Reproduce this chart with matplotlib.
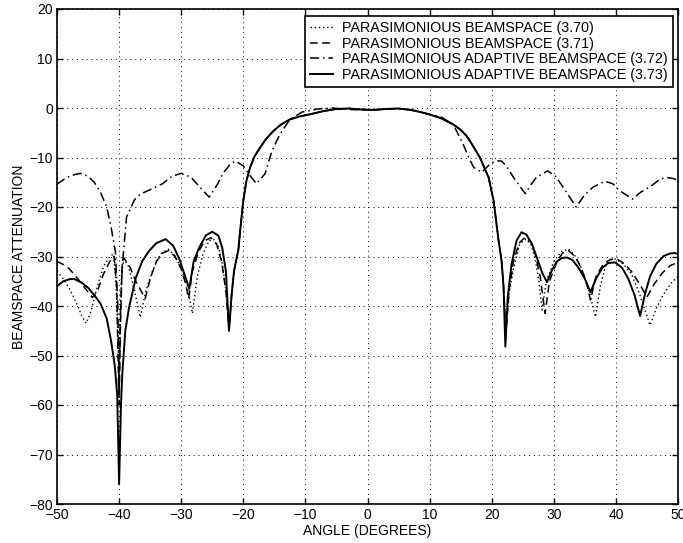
import numpy as np
import matplotlib
matplotlib.use("Agg")
import matplotlib.pyplot as plt

plt.rcParams['font.family'] = ['Liberation Sans', 'DejaVu Sans']
plt.rcParams['font.size'] = 10

# main lobe shared by (3.70), (3.71), (3.73)
main_ang = [-21.9, -21.5, -21.1, -20.8, -20.5, -20, -19.5, -18.9, -18.2, -17.3, -16.3, -15.2, -14, -12.5, -10.9, -9, -7,
            -5, -3, -1, 1, 3, 5, 7, 8.5, 10, 11.7, 13.8, 15, 16, 17, 18.1, 19, 19.5, 20.3, 21.1, 21.6, 21.9]
main_db = [-38, -33, -30.5, -28.7, -24.7, -18.7, -14.7, -12, -9.8, -8, -6.2, -4.7, -3.4, -2.3, -1.7, -1.2, -0.6,
           -0.2, -0.1, -0.3, -0.4, -0.2, -0.1, -0.4, -0.8, -1.3, -2.0, -3.3, -4.4, -5.7, -7.7, -10, -12.6, -14, -18.7,
           -26.7, -31, -36]

# (3.73) solid
sol_l_ang = [-50, -49, -48, -47.3, -46, -45, -44, -43, -42, -41.3, -40.7, -40.3, -40, -39.7, -39.5, -39, -38.4, -37.3,
             -36.3, -35.2, -34, -32.5, -31.3, -30.3, -29.5, -28.7, -28, -27.1, -26, -25, -24, -23.4, -22.8, -22.3]
sol_l_db = [-36.0, -35.0, -34.6, -34.5, -35.3, -36.3, -37.8, -39.5, -42.5, -47, -52, -58, -76, -60, -54, -45, -40.3, -34.3,
            -31, -28.9, -27.3, -26.5, -27.8, -30.5, -33.5, -36.5, -31, -28.2, -25.7, -25.0, -25.8, -28.2, -33, -45]
sol_r_ang = [22.2, 22.6, 23.2, 24, 24.8, 25.6, 26.5, 27.3, 28.2, 28.9, 29.6, 30.5, 31.3, 32.1, 33, 34, 35, 35.9, 36.8,
             37.8, 38.8, 39.9, 41, 42, 43, 43.9, 44.7, 45.5, 46.5, 47.7, 48.7, 49.5, 50]
sol_r_db = [-48.2, -38, -31.5, -26.8, -25.1, -25.6, -27.5, -30.3, -33.5, -35.2, -33, -31, -30.3, -30.2, -30.7, -32.3, -34.5,
            -37.2, -34.5, -32.3, -31.3, -31.2, -32.3, -34.5, -37.8, -42, -37.5, -34, -31.5, -29.9, -29.4, -29.3, -29.5]

# (3.71) dashed
dsh_l_ang = [-50, -49, -48, -47, -46, -45, -44.3, -43.5, -42.5, -41.5, -40.8, -40.4, -40.1, -40, -39.8, -39.5, -39.2,
             -38.3, -37.3, -35.8, -35, -34, -33, -32, -31, -30, -29.3, -28.8, -28.2, -27.2, -26.2, -25.2, -24.3, -23.5,
             -22.8, -22.3]
dsh_l_db = [-31, -31.6, -32.5, -34, -35.5, -37.2, -38.3, -37, -33.5, -31, -30, -36, -55, -60, -45, -31, -30.3, -32, -35,
            -38.5, -34.5, -31, -29.3, -28.8, -30, -32.5, -35.5, -38.5, -33, -29, -26.8, -26.2, -27.5, -31, -37, -45]
dsh_r_ang = [22.3, 22.8, 23.5, 24.4, 25.4, 26.3, 27, 27.8, 28.6, 29.3, 30.5, 31.4, 32.4, 33.4, 34.3, 35.2, 35.9, 36.8, 38,
             39.1, 40.2, 41.4, 42.5, 43.8, 45, 46.2, 47.5, 48.8, 50]
dsh_r_db = [-45, -37, -31, -27.3, -26.1, -27, -29.5, -34, -41.5, -35, -31, -29.3, -28.8, -30, -32, -35, -38.8, -34, -31.5,
            -30.6, -30.5, -31.5, -33, -35.5, -38.2, -35.5, -33.3, -31.8, -31.2]

# (3.70) dotted
dot_l_ang = [-50, -49, -48, -47, -46, -45.3, -44.5, -43.5, -42.5, -41.5, -40.9, -40.5, -40.1, -40, -39.9, -39.6, -39.2,
             -38.5, -37.5, -36.6, -35.7, -34.5, -33.3, -32.1, -31, -30, -29, -28.2, -27.4, -26.5, -25.5, -24.8, -24,
             -23.3, -22.7, -22.3]
dot_l_db = [-33, -34.5, -36.5, -39, -42, -43.5, -41, -36, -32, -30, -29.5, -35, -50, -58, -48, -33, -30.5, -32, -37, -42.3,
            -37, -32.5, -29.5, -28.5, -29.8, -32.5, -36, -41.5, -34, -29.5, -26.8, -26.5, -28, -32, -38, -45]
dot_r_ang = [22.3, 22.8, 23.5, 24.5, 25.5, 26.3, 27, 27.6, 28.1, 28.8, 30, 31.2, 32.4, 33.5, 34.5, 35.6, 36.7, 37.5, 38.3,
             39.1, 39.9, 41.2, 42.5, 43.8, 45.5, 46.5, 47.5, 48.8, 50]
dot_r_db = [-45, -37.5, -32.5, -27.5, -26.5, -27.5, -30.5, -35, -40.8, -35, -31, -29, -28.5, -30, -32.5, -36.5, -42.2, -36,
            -32, -30.7, -30.5, -31.5, -33.5, -37.5, -43.9, -40.5, -38, -35.5, -34]

# (3.72) dash-dot
dd_ang = [-50, -49, -48, -47, -46.2, -45, -44, -43, -42, -41.3, -40.6, -40.2, -40, -39.8, -39.5, -38.8, -37.5, -36.6, -35,
          -33, -31.5, -30, -28.4, -27, -25.5, -24.2, -23.2, -22.2, -21.3, -20, -19, -17.9, -16.5, -15.4, -14.1, -12.5,
          -10.5, -8, -5.6, -3, 0, 3, 5, 7.5, 9.9, 11.7, 13.8, 15.4, 16.3, 17.1, 18.4, 19.5, 20.5, 21.6, 22.5, 23.5, 25.4,
          26.3, 27.2, 29, 30.3, 31.5, 33.6, 35, 36.3, 38.2, 39.5, 40.6, 42.7, 44, 45.4, 47, 48, 49, 50]
dd_db = [-15.4, -14.5, -13.8, -13.4, -13.2, -13.8, -15, -17, -20, -24, -29, -40, -57, -42, -32, -22, -18.5, -17.4, -16.5,
         -15.3, -13.8, -13.2, -14, -16, -18, -15.5, -13.1, -11.5, -10.7, -11.7, -13.5, -15.3, -13.3, -8.7, -5.3, -2.3,
         -0.8, -0.2, 0, -0.3, -0.4, -0.2, -0.1, -0.5, -1.3, -1.7, -3.3, -7.3, -10, -12, -13, -11.6, -10.7, -10.7, -12,
         -14, -17.3, -15.5, -14, -12.7, -13.8, -16, -20, -17.5, -16, -14.8, -15.3, -16.7, -18.4, -17, -16, -14.5, -14,
         -14.2, -14.5]

labels = ['PARASIMONIOUS BEAMSPACE (3.70)',
          'PARASIMONIOUS BEAMSPACE (3.71)',
          'PARASIMONIOUS ADAPTIVE BEAMSPACE (3.72)',
          'PARASIMONIOUS ADAPTIVE BEAMSPACE (3.73)']

fig = plt.figure(figsize=(6.83, 5.43), dpi=100)
ax = fig.add_axes([57/683, 39/543, 621/683, 495/543])

ax.plot(dot_l_ang + main_ang + dot_r_ang, dot_l_db + main_db + dot_r_db,
        color='k', lw=1.0, linestyle=(0, (1, 2)), label=labels[0])
ax.plot(dsh_l_ang + main_ang + dsh_r_ang, dsh_l_db + main_db + dsh_r_db,
        color='k', lw=1.1, linestyle=(0, (5, 3)), label=labels[1])
ax.plot(dd_ang, dd_db, color='k', lw=1.1, linestyle=(0, (6, 2.5, 1, 2.5)), label=labels[2])
ax.plot(sol_l_ang + main_ang + sol_r_ang, sol_l_db + main_db + sol_r_db,
        color='k', lw=1.4, linestyle='-', label=labels[3])

ax.set_xlim(-50, 50)
ax.set_ylim(-80, 20)
ax.set_xticks(np.arange(-50, 51, 10))
ax.set_yticks(np.arange(-80, 21, 10))
ax.grid(True, color='k', linestyle=(0, (1, 4)), lw=0.7)
ax.tick_params(direction='in', top=True, right=True, length=4, width=1, labelsize=10, pad=3)
for s in ax.spines.values():
    s.set_linewidth(1.2)

ax.set_xlabel('ANGLE (DEGREES)', fontsize=10, labelpad=1)
ax.set_ylabel('BEAMSPACE ATTENUATION', fontsize=10, labelpad=2)

leg = ax.legend(loc='upper right', bbox_to_anchor=(0.992, 0.985), borderaxespad=0, fontsize=10.3,
                handlelength=1.6, handletextpad=0.65, labelspacing=0.1, borderpad=0.35,
                fancybox=False, framealpha=1, edgecolor='k')
leg.get_frame().set_linewidth(1.2)

fig.savefig('out.png', dpi=100)
